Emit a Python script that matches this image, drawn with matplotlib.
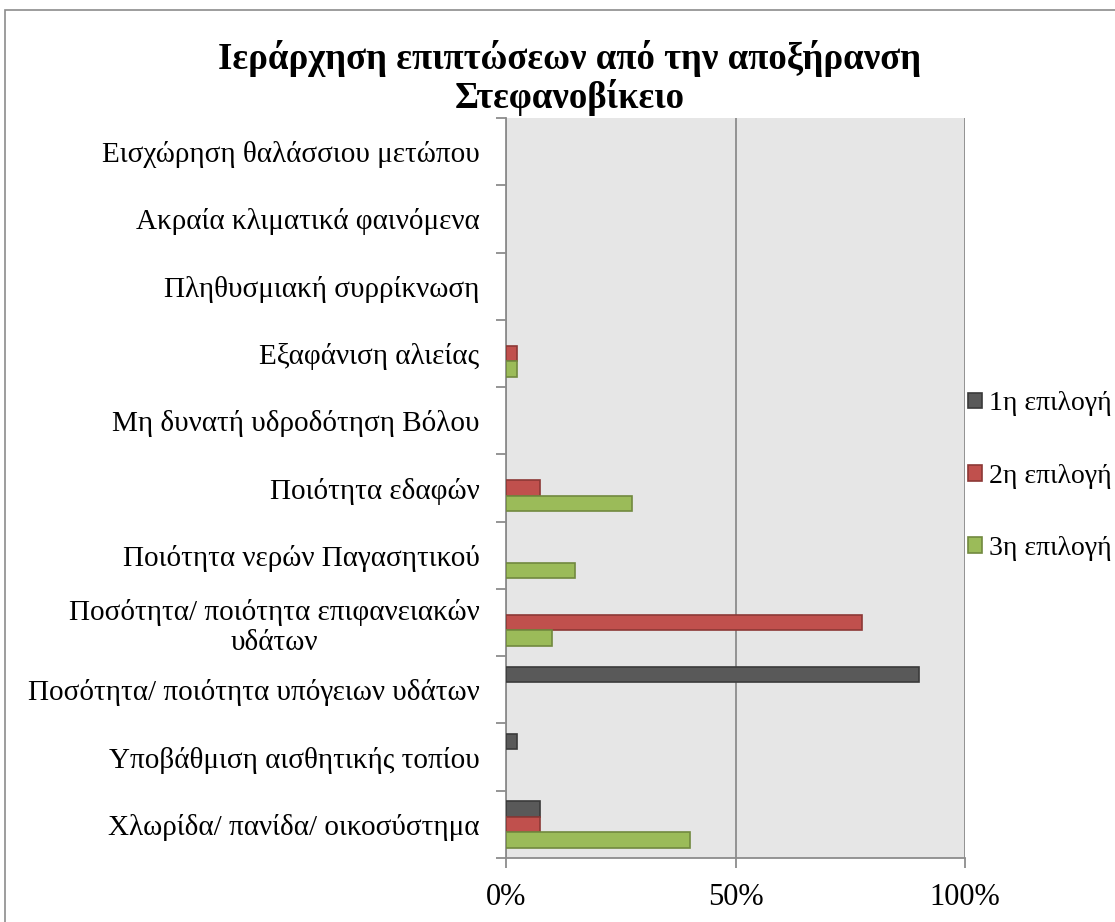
import matplotlib
matplotlib.use("Agg")
import matplotlib.pyplot as plt
from matplotlib.patches import Rectangle
import numpy as np

plt.rcParams['font.family'] = ['Liberation Serif', 'DejaVu Serif']

title = "Ιεράρχηση επιπτώσεων από την αποξήρανση\nΣτεφανοβίκειο"

# categories listed bottom to top
categories = [
    "Χλωρίδα/ πανίδα/ οικοσύστημα",
    "Υποβάθμιση αισθητικής τοπίου",
    "Ποσότητα/ ποιότητα υπόγειων υδάτων",
    "Ποσότητα/ ποιότητα επιφανειακών\nυδάτων",
    "Ποιότητα νερών Παγασητικού",
    "Ποιότητα εδαφών",
    "Μη δυνατή υδροδότηση Βόλου",
    "Εξαφάνιση αλιείας",
    "Πληθυσμιακή συρρίκνωση",
    "Ακραία κλιματικά φαινόμενα",
    "Εισχώρηση θαλάσσιου μετώπου",
]

series_names = ["1η επιλογή", "2η επιλογή", "3η επιλογή"]
choice1 = [0.075, 0.025, 0.90, 0.0, 0.0, 0.0, 0.0, 0.0, 0.0, 0.0, 0.0]
choice2 = [0.075, 0.0, 0.0, 0.775, 0.0, 0.075, 0.0, 0.025, 0.0, 0.0, 0.0]
choice3 = [0.40, 0.0, 0.0, 0.10, 0.15, 0.275, 0.0, 0.025, 0.0, 0.0, 0.0]

face_colors = ["#595959", "#C0504D", "#9BBB59"]
edge_colors = ["#3a3a3a", "#8c3836", "#71893f"]

fig = plt.figure(figsize=(11.15, 9.22), dpi=100)
fig.patches.append(Rectangle((5 / 1115, -0.1), 1.2, 1 - 10 / 922 + 0.1,
                             transform=fig.transFigure, fill=False,
                             edgecolor="#8c8c8c", linewidth=1.2))

ax = fig.add_axes([506 / 1115, 1 - 858 / 922, (965 - 506) / 1115, (858 - 118) / 922])
ax.set_facecolor("#E6E6E6")

y = np.arange(len(categories))
h = 0.23
for i, (vals, name) in enumerate(zip([choice1, choice2, choice3], series_names)):
    vals = np.asarray(vals)
    nz = vals > 0  # empty answers draw no bar
    ax.barh(y[nz] + (1 - i) * h, vals[nz], height=h, color=face_colors[i],
            edgecolor=edge_colors[i], linewidth=1.2, label=name, zorder=3)

ax.set_xlim(0, 1)
ax.set_ylim(-0.5, len(categories) - 0.5)
ax.set_xticks([0, 0.5, 1.0])
ax.set_xticklabels(["0%", "50%", "100%"], fontsize=22)
ax.xaxis.grid(True, color="#8c8c8c", linewidth=1.3, zorder=1)

ax.set_yticks(y)
ax.set_yticklabels(categories, fontsize=21, multialignment="center")
ax.set_yticks(np.arange(-0.5, len(categories), 1), minor=True)
ax.tick_params(axis="y", which="major", length=0, pad=19)
ax.tick_params(axis="y", which="minor", length=7, width=1.3, color="#8c8c8c", direction="out")
ax.tick_params(axis="x", length=7, width=1.3, color="#8c8c8c", pad=11)

for s in ["top", "right"]:
    ax.spines[s].set_visible(False)
for s in ["left", "bottom"]:
    ax.spines[s].set_color("#8c8c8c")
    ax.spines[s].set_linewidth(1.3)

fig.text(570 / 1115, 1 - 78 / 922, title, ha="center", va="center",
         fontsize=26.5, fontweight="bold", linespacing=1.08)

ax.legend(loc="center left", bbox_to_anchor=(1.0, 0.516), frameon=False,
          fontsize=20, handlelength=0.5, handleheight=0.5, handletextpad=0.25,
          labelspacing=1.7, borderpad=0, borderaxespad=0.1)

fig.savefig("out.png", dpi=100)
